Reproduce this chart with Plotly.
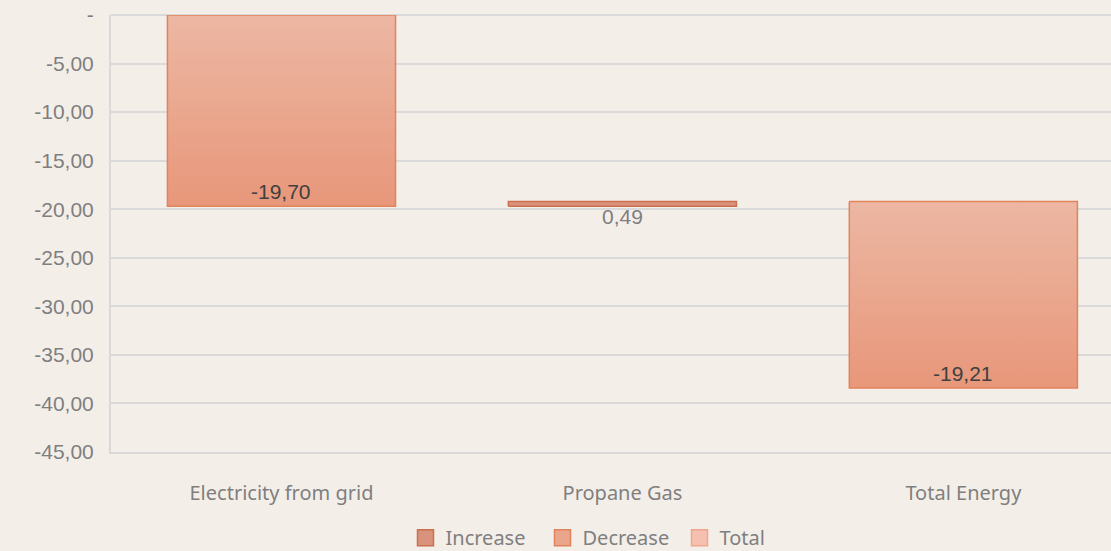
import plotly.graph_objects as go

categories = ["Electricity from grid", "Propane Gas", "Total Energy"]
changes = [-19.70, 0.49]          # step changes
total_value = -19.21              # total energy change
y_tick_values = [0, -5, -10, -15, -20, -25, -30, -35, -40, -45]
y_tick_labels = ["-", "-5,00", "-10,00", "-15,00", "-20,00", "-25,00", "-30,00", "-35,00", "-40,00", "-45,00"]
legend_names = ["Increase", "Decrease", "Total"]

def fmt(v):
    return f"{v:.2f}".replace(".", ",")

# cumulative positions
cum = []
run = 0.0
for c in changes:
    cum.append(run + c)
    run += c
bases = [0.0] + cum[:-1]

BG = "#F4EEE9"
GRID = "#D9D9D9"
DEC_TOP = "#ECB7A3"
DEC_BOT = "#E8977A"
DEC_LINE = "#E2835B"
INC_FILL = "#D9927C"
INC_LINE = "#C9714F"
TOT_FILL = "#F5C0B0"
TOT_LINE = "#F0A58C"
W = 0.669
LABEL_FONT = dict(color="#404040", size=21, family="Liberation Sans")

# bar specs: (index, base, value, kind)
bars = [
    (0, bases[0], changes[0], "dec"),
    (1, bases[1], changes[1], "inc"),
    (2, cum[-1], total_value, "dec"),
]

fig = go.Figure()

for i, b, v, kind in bars:
    x0, x1 = i - W / 2, i + W / 2
    y0, y1 = b, b + v
    xs = [x0, x1, x1, x0, x0]
    ys = [y0, y0, y1, y1, y0]
    if kind == "dec":
        fig.add_trace(go.Scatter(
            x=xs, y=ys, mode="lines", fill="toself",
            fillgradient=dict(type="vertical", colorscale=[[0, DEC_BOT], [1, DEC_TOP]]),
            line=dict(color=DEC_LINE, width=1.5), showlegend=False, hoverinfo="skip",
        ))
    else:
        fig.add_trace(go.Scatter(
            x=xs, y=ys, mode="lines", fill="toself", fillcolor=INC_FILL,
            line=dict(color=INC_LINE, width=1.5), showlegend=False, hoverinfo="skip",
        ))

# data labels
fig.add_annotation(x=0, y=min(bases[0], bases[0] + changes[0]), text=fmt(changes[0]),
                   showarrow=False, yanchor="bottom", yshift=1, font=LABEL_FONT)
fig.add_annotation(x=1, y=min(bases[1], bases[1] + changes[1]), text=fmt(changes[1]),
                   showarrow=False, yanchor="top", yshift=3,
                   font=dict(color="#7F7F7F", size=21, family="Liberation Sans"))
fig.add_annotation(x=2, y=min(cum[-1], cum[-1] + total_value), text=fmt(total_value),
                   showarrow=False, yanchor="bottom", yshift=1, font=LABEL_FONT)

# legend-only entries
for name, fc, lc in zip(legend_names, [INC_FILL, "#EAA68C", TOT_FILL], [INC_LINE, DEC_LINE, TOT_LINE]):
    fig.add_trace(go.Scatter(
        x=[None], y=[None], mode="markers", name=name,
        marker=dict(symbol="square", size=18, color=fc, line=dict(color=lc, width=1.5)),
    ))

fig.update_layout(
    width=1111, height=551,
    paper_bgcolor=BG, plot_bgcolor=BG,
    margin=dict(l=111, r=0, t=15, b=99, autoexpand=False),
    font=dict(family="Liberation Sans", color="#7F7F7F", size=20),
    showlegend=True,
    legend=dict(orientation="h", x=0.5, xanchor="center", y=-0.196, yanchor="middle",
                font=dict(size=20, color="#7F7F7F", family="Noto Sans"), traceorder="normal",
                itemwidth=30, entrywidth=92, entrywidthmode="pixels",
                bgcolor="rgba(0,0,0,0)"),
    xaxis=dict(range=[-0.5, 2.433], tickvals=[0, 1, 2], ticktext=categories,
               showgrid=False, zeroline=False, showline=True, linecolor=GRID, linewidth=2,
               ticks="", ticklabelstandoff=22,
               tickfont=dict(size=20, color="#7F7F7F", family="Noto Sans")),
    yaxis=dict(range=[-45, 0], tickvals=y_tick_values, ticktext=y_tick_labels,
               showgrid=True, gridcolor=GRID, gridwidth=2, zeroline=True, zerolinecolor=GRID,
               zerolinewidth=2, showline=True, linecolor=GRID, linewidth=2,
               ticks="", ticklabelstandoff=11,
               tickfont=dict(size=21, color="#7F7F7F", family="Liberation Sans")),
)

fig.write_html("out.html", config={"displayModeBar": False},
               post_script="document.body.style.margin='0';document.body.style.background='%s';" % BG)
